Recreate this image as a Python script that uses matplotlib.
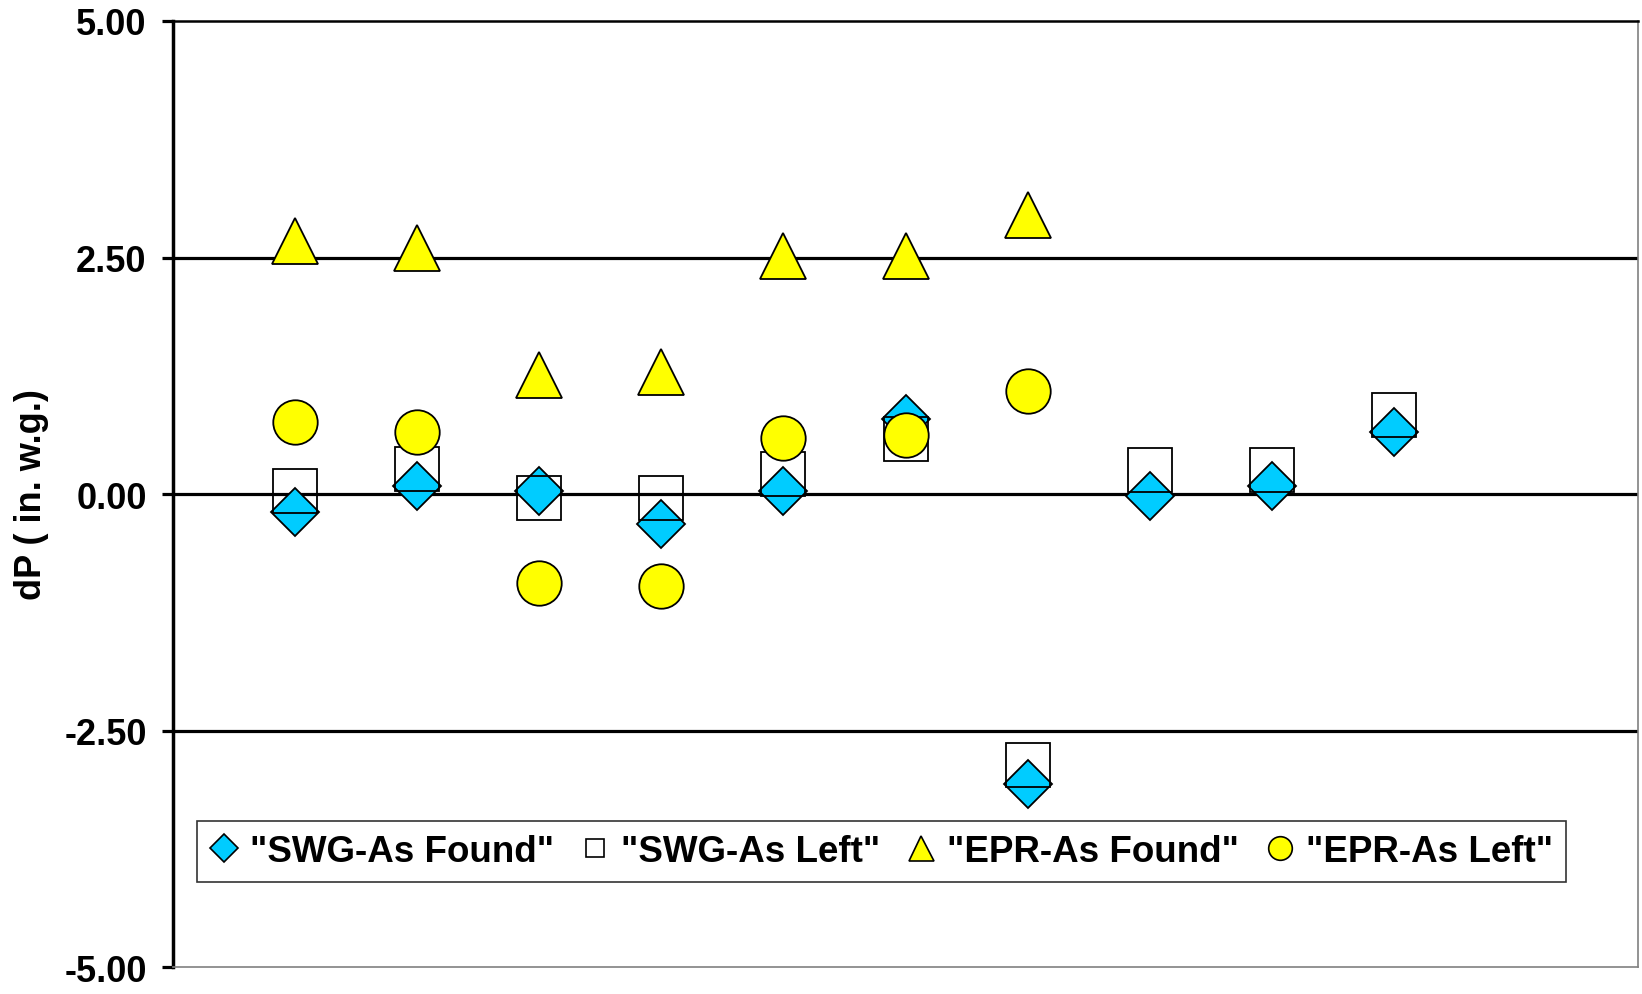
import numpy as np
import matplotlib.pyplot as plt
from matplotlib.lines import Line2D

plt.rcParams['font.family'] = ['Liberation Sans', 'DejaVu Sans']
plt.rcParams['font.weight'] = 'bold'

# --- data ---
x = [1, 2, 3, 4, 5, 6, 7, 8, 9, 10]
swg_found = [-0.19, 0.08, 0.03, -0.32, 0.03, 0.79, -3.06, -0.02, 0.08, 0.66]
swg_left = [0.03, 0.26, -0.04, -0.04, 0.21, 0.58, -2.86, 0.25, 0.25, 0.835]
epr_found = [2.67, 2.60, 1.26, 1.29, 2.52, 2.52, 2.95, np.nan, np.nan, np.nan]
epr_left = [0.76, 0.66, -0.94, -0.97, 0.59, 0.62, 1.09, np.nan, np.nan, np.nan]

yticks = [-5.0, -2.5, 0.0, 2.5, 5.0]
labels = ['"SWG-As Found"', '"SWG-As Left"', '"EPR-As Found"', '"EPR-As Left"']

cyan = '#00CCFF'
yellow = '#FFFF00'

fig = plt.figure(figsize=(16.42, 9.95), dpi=100)
ax = fig.add_axes([0.1054, 0.0271, 0.8922, 0.9508])

# gridlines
for g in [2.5, 0.0, -2.5]:
    ax.axhline(g, color='black', lw=2.3, zorder=1)

ax.plot(x, swg_found, linestyle='none', marker='D', ms=24, mfc=cyan, mec='black', mew=1.3, zorder=3)
ax.plot(x, swg_left, linestyle='none', marker='s', ms=32, mfc='none', mec='black', mew=1.3, zorder=4)
ax.plot(x, epr_found, linestyle='none', marker='^', ms=33, mfc=yellow, mec='black', mew=1.3, zorder=5)
ax.plot(x, epr_left, linestyle='none', marker='o', ms=32, mfc=yellow, mec='black', mew=1.3, zorder=6)

ax.set_xlim(0, 12)
ax.set_ylim(-5, 5)
ax.set_xticks([])
ax.set_yticks(yticks)
ax.set_yticklabels(['%.2f' % v for v in yticks])
ax.tick_params(axis='y', length=8, width=2.3, pad=11, labelsize=26)

ax.spines['left'].set_linewidth(2.5)
ax.spines['left'].set_color('black')
ax.spines['top'].set_color('black')
ax.spines['top'].set_linewidth(1.8)
for s in ['right', 'bottom']:
    ax.spines[s].set_color('#808080')
    ax.spines[s].set_linewidth(1.2)

ax.set_ylabel('dP ( in. w.g.)', fontsize=26, fontweight='bold')
ax.yaxis.set_label_coords(-0.085, 0.5)

handles = [
    Line2D([], [], linestyle='none', marker='D', ms=14, mfc=cyan, mec='black', mew=1.2),
    Line2D([], [], linestyle='none', marker='s', ms=13, mfc='none', mec='black', mew=1.2),
    Line2D([], [], linestyle='none', marker='^', ms=18, mfc=yellow, mec='black', mew=1.2),
    Line2D([], [], linestyle='none', marker='o', ms=17, mfc=yellow, mec='black', mew=1.2),
]
leg = ax.legend(handles, labels, loc='lower left', bbox_to_anchor=(0.016, 0.09), ncol=4,
                fontsize=26.5, frameon=True, fancybox=False, edgecolor='black',
                handlelength=0.8, handletextpad=0.3, columnspacing=0.72,
                borderpad=0.35, borderaxespad=0)
leg.get_frame().set_linewidth(1.2)
for t in leg.get_texts():
    t.set_fontweight('bold')

fig.savefig('out.png', dpi=100)
